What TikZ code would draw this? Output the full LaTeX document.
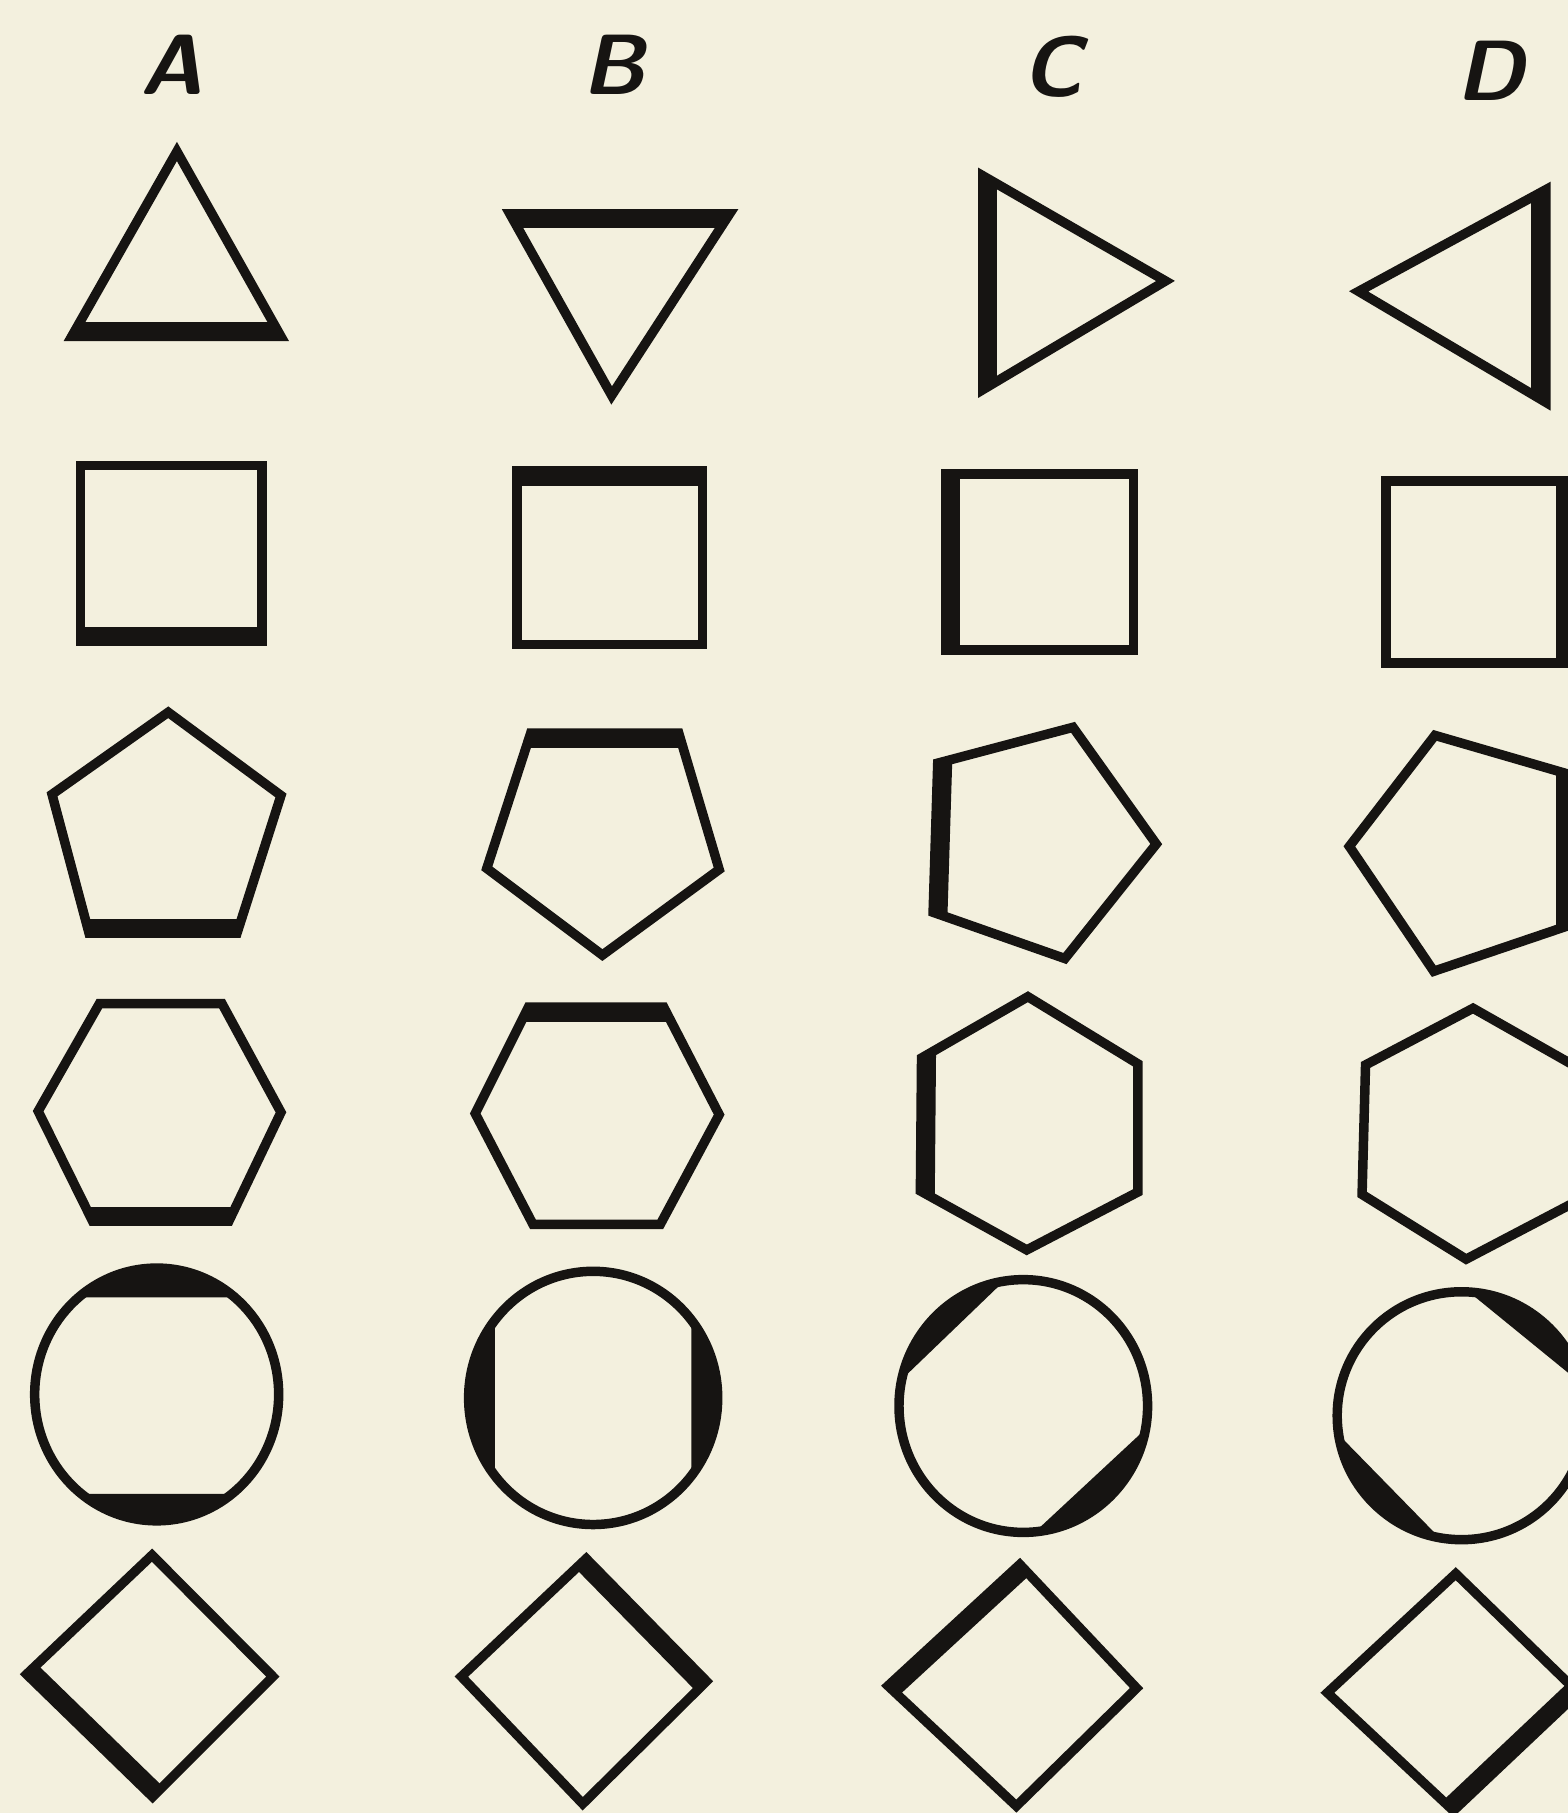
\documentclass[tikz,border=0pt]{standalone}
\usepackage{fontspec}

\definecolor{paper}{RGB}{243,240,222}
\definecolor{ink}{RGB}{22,20,18}

\tikzset{
  fig/.style={draw=ink, line width=4.1pt, line join=miter},
  band/.style={draw=ink, line width=12.5pt, line cap=rect},
  segfill/.style={fill=ink},
  lbl/.style={font=\fontsize{37}{40}\selectfont\sffamily\bfseries\itshape, text=ink, inner sep=0pt}
}

% outline with one heavy side laid inside the figure
\newcommand{\bandshape}[2]{%
  \begin{scope}
    \clip #1 -- cycle;
    \draw[band] #2;
  \end{scope}
  \draw[fig] #1 -- cycle;}

\begin{document}
\begin{tikzpicture}[x=0.5pt, y=-0.5pt]
\useasboundingbox (0,0) rectangle (1356,1568);
\fill[paper] (0,0) rectangle (1356,1568);
\clip (0,0) rectangle (1356,1568);

% column letters
\node[lbl] (labA) at (149,56) {A};
\node[lbl] (labB) at (531,56) {B};
\node[lbl] (labC) at (910,58) {C};
\node[lbl] (labD) at (1289,61) {D};

% triangles
\bandshape{(62,291) -- (153,131) -- (243,291)}{(62,291) -- (243,291)}
\bandshape{(441,185) -- (631,185) -- (529,342)}{(441,185) -- (631,185)}
\bandshape{(850,152) -- (1008,243) -- (850,337)}{(850,152) -- (850,337)}
\bandshape{(1337,164) -- (1175,252) -- (1337,348)}{(1337,164) -- (1337,348)}

% squares
\bandshape{(69.5,402.5) -- (226.5,402.5) -- (226.5,554.5) -- (69.5,554.5)}{(69.5,554.5) -- (226.5,554.5)}
\bandshape{(447,407.5) -- (607.5,407.5) -- (607.5,557.5) -- (447,557.5)}{(447,407.5) -- (607.5,407.5)}
\bandshape{(818,410) -- (980.5,410) -- (980.5,562) -- (818,562)}{(818,410) -- (818,562)}
\bandshape{(1198.5,416) -- (1358,416) -- (1358,573.5) -- (1198.5,573.5)}{(1358,416) -- (1358,573.5)}

% pentagons
\bandshape{(145.5,616) -- (243,688) -- (205,807) -- (77,807) -- (45,687)}{(77,807) -- (205,807)}
\bandshape{(459,634) -- (587,634) -- (622,752) -- (521,826) -- (421,751)}{(459,634) -- (587,634)}
\bandshape{(811,660) -- (928,629) -- (1000,730) -- (921,829) -- (807,789)}{(811,660) -- (807,789)}
\bandshape{(1241,636) -- (1358,670) -- (1358,800) -- (1240,840) -- (1167,732)}{(1358,670) -- (1358,800)}

% hexagons
\bandshape{(86,868) -- (192,868) -- (243,962) -- (198,1056) -- (80,1056) -- (33,961)}{(80,1056) -- (198,1056)}
\bandshape{(457,871) -- (574,871) -- (622,964) -- (571,1059) -- (461,1059) -- (411,963)}{(457,871) -- (574,871)}
\bandshape{(889,862) -- (984,920) -- (984,1031) -- (888,1081) -- (796,1030) -- (797,915)}{(797,915) -- (796,1030)}
\bandshape{(1274,872) -- (1371,927) -- (1371,1035) -- (1268,1089) -- (1178,1033) -- (1181,921)}{(1371,927) -- (1371,1035)}

% ovals with filled segments
\begin{scope}
  \clip (135.5,1206) ellipse [x radius=105.5, y radius=109.3];
  \fill[segfill] (20,1080) rectangle (250,1122) (20,1292) rectangle (250,1335);
\end{scope}
\draw[fig] (135.5,1206) ellipse [x radius=105.5, y radius=109.3];

\begin{scope}
  \clip (513,1209) ellipse [x radius=107.7, y radius=109.5];
  \fill[segfill] (390,1090) rectangle (428,1330) (598,1090) rectangle (630,1330);
\end{scope}
\draw[fig] (513,1209) ellipse [x radius=107.7, y radius=109.5];

\begin{scope}
  \clip (885,1216) ellipse [x radius=107.5, y radius=109.3];
  \fill[segfill] (731,1240) -- (914,1064) -- (700,1050) -- cycle;
  \fill[segfill] (1038,1192) -- (852,1365) -- (1060,1365) -- cycle;
\end{scope}
\draw[fig] (885,1216) ellipse [x radius=107.5, y radius=109.3];

\begin{scope}
  \clip (1264,1224.4) ellipse [x radius=107.5, y radius=107.2];
  \fill[segfill] (1243,1095) -- (1416,1236) -- (1420,1080) -- cycle;
  \fill[segfill] (1113,1195) -- (1289,1375) -- (1100,1380) -- cycle;
\end{scope}
\draw[fig] (1264,1224.4) ellipse [x radius=107.5, y radius=107.2];

% diamonds
\bandshape{(131.5,1345) -- (236,1450) -- (132,1554) -- (23,1448)}{(23,1448) -- (132,1554)}
\bandshape{(507,1348) -- (611,1454) -- (504,1560) -- (399,1450)}{(507,1348) -- (611,1454)}
\bandshape{(882,1353) -- (983,1460) -- (879,1562) -- (768,1458)}{(768,1458) -- (882,1353)}
\bandshape{(1259,1361) -- (1365,1464) -- (1257,1566) -- (1148,1464)}{(1365,1464) -- (1257,1566)}
\end{tikzpicture}
\end{document}
